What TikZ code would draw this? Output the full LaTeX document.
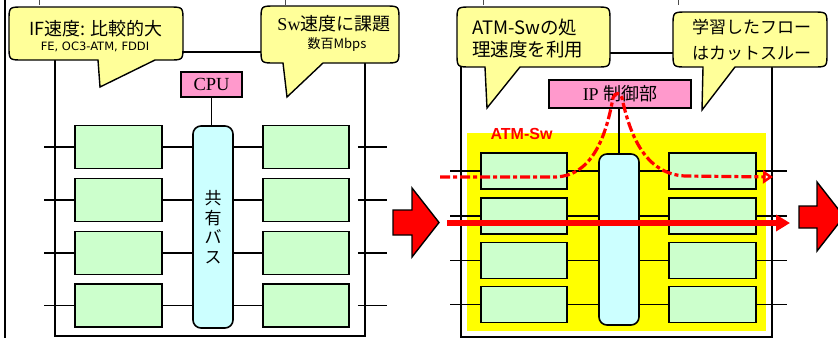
\documentclass[tikz,border=0pt]{standalone}
\usepackage{fontspec}
\setmainfont{Liberation Serif}
\newfontfamily\jp{Noto Sans CJK JP}
\newfontfamily\lsans{Liberation Sans}
\newfontfamily\dvs{DejaVu Sans}
\usetikzlibrary{arrows.meta}
\definecolor{gfill}{HTML}{CCFFCC}
\definecolor{bfill}{HTML}{CCFFFF}
\definecolor{pfill}{HTML}{FF99CC}
\definecolor{cfill}{HTML}{FFFF99}
\definecolor{yfill}{HTML}{FFFF00}
\definecolor{fred}{HTML}{FF0000}
\begin{document}
\begin{tikzpicture}[x=1pt,y=-1pt,
  gbox/.style={draw, line width=1.6pt, fill=gfill, minimum width=87pt, minimum height=43pt, inner sep=0pt},
  gboxr/.style={gbox, minimum width=86pt, minimum height=36pt},
  bus/.style={draw, line width=1.6pt, fill=bfill, rounded corners=8pt, minimum width=40pt, inner sep=0pt},
  ctl/.style={draw, line width=1.4pt, fill=pfill, inner sep=0pt},
  wire/.style={line width=1.5pt},
  panel/.style={line width=1.6pt},
  callout/.style={draw, line width=1.4pt, fill=cfill},
  bigarrow/.style={draw, line width=1.4pt, fill=fred},
  txt/.style={inner sep=0pt},
  flow/.style={fred, line width=5.5pt, -{Triangle[length=14pt,width=16pt]}},
  flowd/.style={fred, line width=3.2pt, dash pattern=on 10pt off 3pt on 4pt off 3pt, -{Triangle[open,length=10pt,width=13pt]}}
]
\clip (0,0) rectangle (838,338);
\fill[white] (0,0) rectangle (838,338);
% page edge and cut marks
\draw[line width=2.2pt] (5,0) -- (5,338);
\foreach \xx in {39,285,483,678} \draw[line width=1pt, black!70] (\xx,0) -- (\xx,5);

% ===== left panel =====
\draw[panel] (55,52) rectangle (365,336);
\node[gbox] (L1) at (118.5,147) {};
\node[gbox] (L2) at (118.5,200) {};
\node[gbox] (L3) at (118.5,253) {};
\node[gbox] (L4) at (118.5,305.5) {};
\node[gbox, minimum width=86pt] (R1) at (306,147) {};
\node[gbox, minimum width=86pt] (R2) at (306,200) {};
\node[gbox, minimum width=86pt] (R3) at (306,253) {};
\node[gbox, minimum width=86pt] (R4) at (306,305.5) {};
\node[bus, minimum height=202pt, align=center, font=\jp\fontsize{17}{19.5}\selectfont] (B) at (213,227) {共\\有\\バ\\ス};
\node[ctl, minimum width=61pt, minimum height=25pt, font=\fontsize{18.5}{20}\selectfont] (CPU) at (211.5,84.5) {CPU};
\draw[wire] (CPU.south) -- (CPU.south |- B.north);
\foreach \r in {1,2,3,4} {
  \draw[wire] (L\r.west) -- ++(-30,0);
  \draw[wire] (L\r.east) -- (B.west |- L\r.east);
  \draw[wire] (B.east |- R\r.west) -- (R\r.west);
  \draw[wire] ([xshift=8pt]R\r.east) -- ++(29,0);
}

% ===== right panel =====
\draw[panel] (461,53) rectangle (772,337);
\fill[yfill] (467,133) rectangle (766,331);
\node[txt, text=fred, font=\lsans\bfseries\fontsize{16}{18}\selectfont] (atm) at (521.5,134) {ATM-Sw};
\node[gboxr] (RL1) at (524,171) {};
\node[gboxr] (RL2) at (524,216) {};
\node[gboxr] (RL3) at (524,260.5) {};
\node[gboxr] (RL4) at (524,304.5) {};
\node[gboxr, minimum width=87pt] (RR1) at (712.5,171) {};
\node[gboxr, minimum width=87pt] (RR2) at (712.5,216) {};
\node[gboxr, minimum width=87pt] (RR3) at (712.5,260.5) {};
\node[gboxr, minimum width=87pt] (RR4) at (712.5,304.5) {};
\node[bus, minimum height=171pt] (RB) at (619,239.5) {};
\node[ctl, minimum width=142pt, minimum height=28pt, font=\fontsize{18}{20}\selectfont] (IP) at (620,94) {IP {\jp 制御部}};
\draw[wire] (IP.south -| RB.north) -- (RB.north);
\foreach \r in {1,2,3,4} {
  \draw[wire] (RL\r.west) -- ++(-30,0);
  \draw[wire] (RL\r.east) -- (RB.west |- RL\r.east);
  \draw[wire] (RB.east |- RR\r.west) -- (RR\r.west);
  \draw[wire] (RR\r.east) -- ++(30,0);
}

% ===== callouts =====
\draw[callout] (23,7) -- (169,7) .. controls (183,7) .. (183,21) -- (183,46) .. controls (183,60) .. (169,60)
  -- (155,60) -- (100,87) -- (98,60) -- (23,60) .. controls (9,60) .. (9,46) -- (9,21) .. controls (9,7) .. (23,7) -- cycle;
\node[txt, font=\jp\fontsize{18}{20}\selectfont] (t1a) at (96,28.5) {IF速度: 比較的大};
\node[txt, font=\dvs\fontsize{11.5}{13}\selectfont] (t1b) at (95,46.5) {FE, OC3-ATM, FDDI};

\draw[callout] (275,6) -- (385,6) .. controls (399,6) .. (399,20) -- (399,49) .. controls (399,63) .. (385,63)
  -- (323,63) -- (287,97) -- (283,63) -- (275,63) .. controls (261,63) .. (261,49) -- (261,20) .. controls (261,6) .. (275,6) -- cycle;
\node[txt, font=\jp\fontsize{18}{20}\selectfont] (t2a) at (334,24) {{\rmfamily Sw}速度に課題};
\node[txt, font=\jp\fontsize{13}{15}\selectfont] (t2b) at (337,45) {数百Mbps};

\draw[callout] (471,7) -- (596,7) .. controls (610,7) .. (610,21) -- (610,53) .. controls (610,67) .. (596,67)
  -- (520,67) -- (487,108) -- (485,67) -- (471,67) .. controls (457,67) .. (457,53) -- (457,21) .. controls (457,7) .. (471,7) -- cycle;
\node[txt, anchor=west, font=\jp\fontsize{18.5}{20}\selectfont] (t3a) at (472,27) {ATM-Swの処};
\node[txt, anchor=west, font=\jp\fontsize{18.5}{20}\selectfont] (t3b) at (472,50) {理速度を利用};

\draw[callout] (687,12) -- (813,12) .. controls (827,12) .. (827,26) -- (827,53) .. controls (827,67) .. (813,67)
  -- (735,67) -- (702,110) -- (703,67) -- (687,67) .. controls (673,67) .. (673,53) -- (673,26) .. controls (673,12) .. (687,12) -- cycle;
\node[txt, anchor=west, font=\jp\fontsize{17}{19}\selectfont] (t4a) at (692,27) {学習したフロー};
\node[txt, anchor=west, font=\jp\fontsize{17}{19}\selectfont] (t4b) at (692,53) {はカットスルー};

% ===== flows =====
\coordinate (fs) at (440,177);
\coordinate (fe) at (773,177);
\draw[flowd] (fs) -- (555,177) .. controls (595,176) and (607,130) .. (613,98)
  .. controls (615,92) and (620,92) .. (622,98) .. controls (630,135) and (645,174) .. (685,176) -- (fe);
\coordinate (ss) at (447,223);
\coordinate (se) at (790,223);
\draw[flow] (ss) -- (se);

% ===== big arrows =====
\draw[bigarrow] (393,210) -- (412,210) -- (412,188) -- (439,222.5) -- (412,257) -- (412,235) -- (393,235) -- cycle;
\draw[bigarrow] (799,206) -- (817,206) -- (817,182) -- (844,216.5) -- (817,251) -- (817,228) -- (799,228) -- cycle;
\end{tikzpicture}
\end{document}
